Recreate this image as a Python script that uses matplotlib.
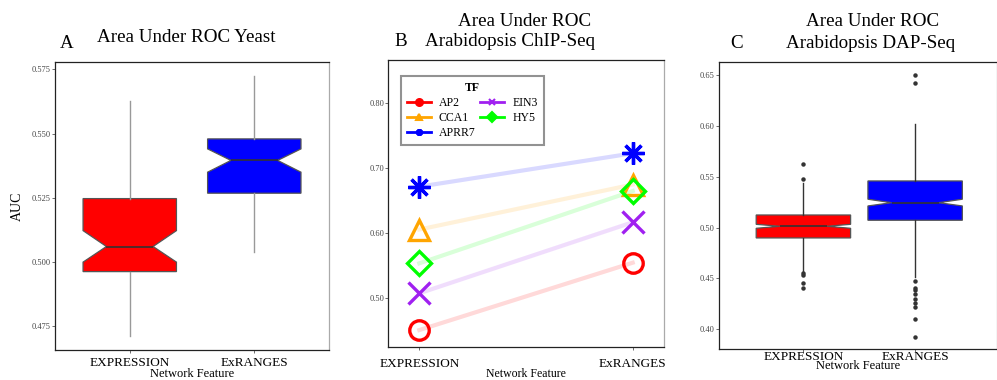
"""
AUC比較図 (Yeast / Arabidopsis ChIP-Seq / Arabidopsis DAP-Seq)
"""
import numpy as np
import matplotlib
matplotlib.use('Agg')
import matplotlib.pyplot as plt
from matplotlib.lines import Line2D

plt.rcParams['font.family'] = ['Liberation Serif', 'DejaVu Serif']

features = ['EXPRESSION', 'ExRANGES']

# --- panel A: yeast box stats (whislo, q1, cilo, med, cihi, q3, whishi)
yeast_expr = [0.471, 0.4961, 0.4998, 0.5059, 0.5121, 0.5246, 0.5628]
yeast_exr = [0.5037, 0.5267, 0.5349, 0.5395, 0.5440, 0.5479, 0.5724]

# --- panel B: ChIP-Seq AUC per TF
tf_names = ['AP2', 'CCA1', 'APRR7', 'EIN3', 'HY5']
tf_expr = [0.4512, 0.6058, 0.6717, 0.5077, 0.5538]
tf_exr = [0.5548, 0.675, 0.723, 0.617, 0.665]
tf_colors = ['#FF0000', '#FFA500', '#0000FF', '#A020F0', '#00FF00']
tf_markers = ['o', '^', (8, 2, 0), 'x', 'D']

# --- panel C: DAP-Seq box stats
dap_expr = [0.4567, 0.4899, 0.4994, 0.5014, 0.5033, 0.5125, 0.544]
dap_exr = [0.4518, 0.5073, 0.5214, 0.5246, 0.5280, 0.546, 0.6021]
dap_expr_fliers = [0.5624, 0.5476, 0.4557, 0.4535, 0.4459, 0.4407]
dap_exr_fliers = [0.6503, 0.6421, 0.4478, 0.4409, 0.4387, 0.4347,
                  0.4295, 0.4256, 0.4222, 0.4098, 0.3927]


def make_stats(v, fliers=()):
    keys = ['whislo', 'q1', 'cilo', 'med', 'cihi', 'q3', 'whishi']
    d = dict(zip(keys, v))
    d['fliers'] = list(fliers)
    return d


def style_axes(ax, xpad=3):
    for s in ax.spines.values():
        s.set_color('#222222')
        s.set_linewidth(0.9)
    ax.spines['right'].set_color('#aaaaaa')
    ax.tick_params(axis='y', labelsize=6, colors='#555555', length=2,
                   width=0.6, labelcolor='#444444', pad=1)
    ax.tick_params(axis='x', labelsize=9.5, length=2, width=0.6,
                   colors='#555555', labelcolor='black', pad=xpad)
    ax.set_xticks([1, 2])
    ax.set_xticklabels(features)


def draw_box(ax, stats, width, whisker_color):
    ax.bxp(stats, positions=[1, 2], widths=width, shownotches=True,
           patch_artist=True, showcaps=False,
           boxprops=dict(edgecolor='#555555', linewidth=0.9),
           medianprops=dict(color='#333333', linewidth=1.2),
           whiskerprops=dict(color=whisker_color, linewidth=1.0),
           flierprops=dict(marker='o', markersize=2.2, markerfacecolor='#333333',
                           markeredgecolor='#333333', linestyle='none'))
    for patch, c in zip(ax.patches, ['#FF0000', '#0000FF']):
        patch.set_facecolor(c)


fig = plt.figure(figsize=(9.97, 3.80), dpi=100)
TS = 13.7  # title size

# ---------- A ----------
axA = fig.add_axes([0.0552, 0.0789, 0.2748, 0.7579])
draw_box(axA, [make_stats(yeast_expr), make_stats(yeast_exr)], 0.75, '#999999')
axA.set_xlim(0.4, 2.6)
axA.set_ylim(0.4655, 0.5779)
axA.set_yticks([0.475, 0.500, 0.525, 0.550, 0.575])
axA.set_yticklabels(['0.475', '0.500', '0.525', '0.550', '0.575'])
style_axes(axA)
axA.set_ylabel('AUC', fontsize=10, labelpad=6)
axA.set_xlabel('Network Feature', fontsize=9, labelpad=-1)
fig.text(67 / 997, 1 - 44 / 380, 'A', fontsize=TS, ha='center', va='center')
fig.text(186 / 997, 1 - 37 / 380, 'Area Under ROC Yeast', fontsize=TS,
         ha='center', va='center')

# ---------- B ----------
axB = fig.add_axes([0.3895, 0.0876, 0.2768, 0.7537])
for name, e, x, c, m in zip(tf_names, tf_expr, tf_exr, tf_colors, tf_markers):
    axB.plot([1, 2], [e, x], color=c, alpha=0.15, linewidth=3, zorder=1)
    if m == 'D':
        ms = 12
    elif m == 'o' or m == '^':
        ms = 14
    else:
        ms = 16
    axB.plot([1, 2], [e, x], linestyle='none', marker=m, markersize=ms,
             markerfacecolor='none', markeredgecolor=c, markeredgewidth=2.4,
             color=c, zorder=3)
axB.set_xlim(0.855, 2.148)
axB.set_ylim(0.4256, 0.866)
axB.set_yticks([0.5, 0.6, 0.7, 0.8])
axB.set_yticklabels(['0.50', '0.60', '0.70', '0.80'])
style_axes(axB, xpad=6)
axB.set_xlabel('Network Feature', fontsize=8.5, labelpad=-1)
handles = [Line2D([0], [0], color=c, marker=m, markersize=5, linewidth=2,
                  markeredgewidth=1.5)
           for c, m in zip(tf_colors, tf_markers)]
leg = axB.legend(handles, tf_names, title='TF', ncol=2, loc='upper left',
                 bbox_to_anchor=(0.025, 0.965), fontsize=8.5, handlelength=2.0,
                 columnspacing=0.4, handletextpad=0.7, labelspacing=0.25,
                 fancybox=False, borderpad=0.5, frameon=True)
leg.get_title().set_fontweight('bold')
leg.get_title().set_fontsize(8.5)
leg.get_frame().set_edgecolor('#777777')
leg.get_frame().set_linewidth(1.5)
fig.text(525 / 997, 1 - 21 / 380, 'Area Under ROC', fontsize=TS,
         ha='center', va='center')
fig.text(510 / 997, 1 - 42 / 380, 'Arabidopsis ChIP-Seq', fontsize=TS,
         ha='center', va='center')
fig.text(401 / 997, 1 - 42 / 380, 'B', fontsize=TS, ha='center', va='center')

# ---------- C ----------
axC = fig.add_axes([0.7212, 0.0808, 0.2785, 0.7553])
draw_box(axC, [make_stats(dap_expr, dap_expr_fliers),
               make_stats(dap_exr, dap_exr_fliers)], 0.845, '#333333')
axC.set_xlim(0.245, 2.73)
axC.set_ylim(0.3803, 0.6628)
axC.set_yticks([0.40, 0.45, 0.50, 0.55, 0.60, 0.65])
axC.set_yticklabels(['0.40', '0.45', '0.50', '0.55', '0.60', '0.65'])
style_axes(axC, xpad=-1)
axC.set_xlabel('Network Feature', fontsize=9, labelpad=-2)
fig.text(873 / 997, 1 - 22 / 380, 'Area Under ROC', fontsize=TS,
         ha='center', va='center')
fig.text(871 / 997, 1 - 43 / 380, 'Arabidopsis DAP-Seq', fontsize=TS,
         ha='center', va='center')
fig.text(737 / 997, 1 - 43 / 380, 'C', fontsize=TS, ha='center', va='center')

plt.savefig('out.png', dpi=100)
plt.close()
